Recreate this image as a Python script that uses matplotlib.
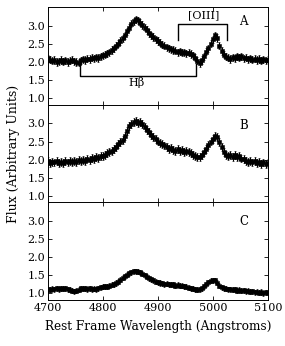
import numpy as np
import matplotlib
matplotlib.use("Agg")
import matplotlib.pyplot as plt

plt.rcParams['font.family'] = ['DejaVu Serif']

# rest-frame wavelength grid (Angstroms), 4 A steps
wave = np.arange(4700, 5101, 4)

flux_a = [2.10, 2.06, 2.03, 2.05, 2.00, 2.02, 2.05, 2.01, 2.04, 2.00,
          2.03, 2.06, 2.02, 2.00, 1.98, 2.04, 2.07, 2.05, 2.09, 2.08,
          2.12, 2.10, 2.13, 2.11, 2.16, 2.18, 2.20, 2.24, 2.27, 2.33,
          2.38, 2.45, 2.50, 2.58, 2.65, 2.74, 2.85, 2.95, 3.06, 3.12,
          3.18, 3.15, 3.08, 3.02, 2.95, 2.88, 2.80, 2.74, 2.69, 2.63,
          2.58, 2.53, 2.48, 2.45, 2.40, 2.38, 2.35, 2.33, 2.31, 2.27,
          2.29, 2.25, 2.27, 2.24, 2.26, 2.22, 2.18, 2.12, 2.03, 1.97,
          2.05, 2.15, 2.28, 2.38, 2.50, 2.62, 2.74, 2.66, 2.45, 2.30,
          2.20, 2.14, 2.12, 2.08, 2.13, 2.10, 2.16, 2.12, 2.15, 2.10,
          2.12, 2.07, 2.10, 2.06, 2.09, 2.05, 2.08, 2.03, 2.07, 2.04,
          2.06]

flux_b = [1.95, 1.90, 1.94, 1.92, 1.96, 1.91, 1.93, 1.90, 1.95, 1.92,
          1.96, 1.93, 1.97, 1.94, 1.98, 1.95, 2.00, 1.97, 2.03, 2.00,
          2.05, 2.02, 2.07, 2.05, 2.10, 2.11, 2.14, 2.17, 2.20, 2.25,
          2.30, 2.35, 2.42, 2.48, 2.55, 2.65, 2.80, 2.93, 2.98, 3.05,
          3.08, 3.02, 3.04, 2.98, 2.90, 2.82, 2.75, 2.68, 2.62, 2.56,
          2.50, 2.46, 2.42, 2.39, 2.35, 2.30, 2.33, 2.27, 2.25, 2.28,
          2.24, 2.27, 2.22, 2.25, 2.21, 2.17, 2.14, 2.10, 2.08, 2.06,
          2.12, 2.20, 2.30, 2.40, 2.50, 2.58, 2.66, 2.62, 2.48, 2.34,
          2.22, 2.13, 2.10, 2.14, 2.08, 2.12, 2.06, 2.10, 2.03, 2.01,
          1.97, 1.94, 1.96, 1.92, 1.95, 1.90, 1.93, 1.89, 1.92, 1.88,
          1.91]

flux_c = [1.12, 1.10, 1.13, 1.11, 1.14, 1.12, 1.15, 1.13, 1.14, 1.11,
          1.10, 1.08, 1.06, 1.07, 1.10, 1.14, 1.13, 1.15, 1.12, 1.14,
          1.11, 1.13, 1.12, 1.15, 1.17, 1.18, 1.20, 1.19, 1.22, 1.24,
          1.26, 1.29, 1.33, 1.38, 1.43, 1.48, 1.52, 1.56, 1.59, 1.61,
          1.62, 1.60, 1.58, 1.55, 1.50, 1.46, 1.42, 1.39, 1.36, 1.33,
          1.31, 1.29, 1.28, 1.26, 1.27, 1.25, 1.24, 1.25, 1.22, 1.24,
          1.21, 1.22, 1.20, 1.18, 1.16, 1.15, 1.13, 1.11, 1.10, 1.12,
          1.15, 1.20, 1.26, 1.31, 1.35, 1.37, 1.36, 1.30, 1.22, 1.17,
          1.14, 1.13, 1.11, 1.12, 1.10, 1.11, 1.08, 1.10, 1.07, 1.09,
          1.06, 1.07, 1.05, 1.06, 1.03, 1.05, 1.02, 1.04, 1.01, 1.03,
          1.02]

errors = [0.10, 0.11, 0.07]
panel_labels = ["A", "B", "C"]
label_y = [3.12, 2.95, 3.0]
yticks = [1.0, 1.5, 2.0, 2.5, 3.0]
xticks = [4700, 4800, 4900, 5000, 5100]

fig, axes = plt.subplots(3, 1, sharex=True, figsize=(2.85, 3.46), dpi=100)
fig.subplots_adjust(left=0.168, right=0.940, bottom=0.133, top=0.980, hspace=0)

for ax, flux, err, lab, ly in zip(axes, [flux_a, flux_b, flux_c], errors,
                                  panel_labels, label_y):
    ax.errorbar(wave, flux, yerr=err, fmt='s', color='black', markersize=3.2,
                elinewidth=0.8, capsize=1, capthick=0.6, markeredgewidth=0.4)
    ax.set_xlim(4700, 5100)
    ax.set_ylim(0.82, 3.52)
    ax.set_yticks(yticks)
    ax.set_xticks(xticks)
    ax.tick_params(direction='in', top=True, right=True, labelsize=8,
                   length=3, width=0.6, pad=2)
    ax.text(5056, ly, lab, fontsize=8.5, ha='center', va='center')
    for s in ax.spines.values():
        s.set_linewidth(0.7)

# line brackets in panel A
ax = axes[0]
ax.plot([4759, 4759, 4970, 4970], [2.02, 1.61, 1.61, 1.94], color='black', lw=1.0)
ax.text(4862, 1.42, "H\u03b2", fontsize=8, ha='center', va='center')
ax.plot([4936, 4936, 5026, 5026], [2.61, 3.05, 3.05, 2.61], color='black', lw=1.0)
ax.text(4984, 3.28, "[OIII]", fontsize=8, ha='center', va='center')

axes[2].set_xlabel("Rest Frame Wavelength (Angstroms)", fontsize=8.7, labelpad=5)
axes[1].set_ylabel("Flux (Arbitrary Units)", fontsize=9, labelpad=5)

fig.savefig("out.png", dpi=100)
